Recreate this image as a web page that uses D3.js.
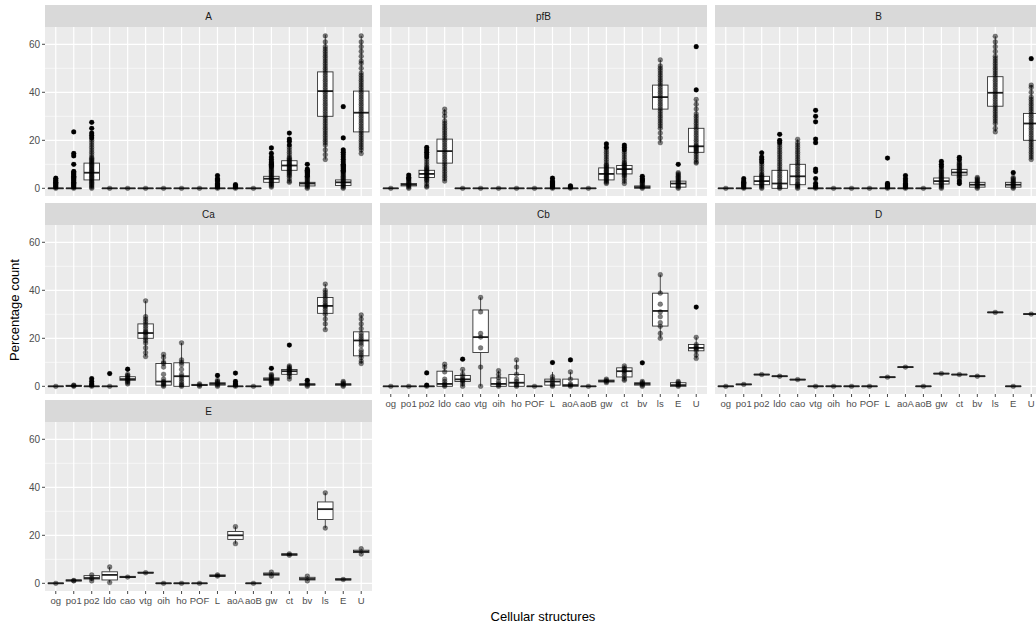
<!DOCTYPE html>
<html><head><meta charset="utf-8">
<script src="https://cdn.jsdelivr.net/npm/d3@7"></script>
<style>body{margin:0;background:#fff}svg{display:block;font-family:"Liberation Sans",Arial,sans-serif}</style>
</head><body><svg id="chart" width="1036" height="626"></svg>
<script>
const categories = ["og","po1","po2","ldo","cao","vtg","oih","ho","POF","L","aoA","aoB","gw","ct","bv","ls","E","U"];
const facets = ["A","pfB","B","Ca","Cb","D","E"];
const yTicks = [0,20,40,60];
const yMinor = [10,30,50];
const yTitle = "Percentage count";
const xTitle = "Cellular structures";

// box stats per category: [lower whisker, q1, median, q3, upper whisker]
const boxA = [[0,0,0,0,0],[0,0,0,0,0],[0,3.5,6.5,10.5,20.5],[0,0,0,0,0],[0,0,0,0,0],[0,0,0,0,0],[0,0,0,0,0],[0,0,0,0,0],[0,0,0,0,0],[0,0,0,0,0],[0,0,0,0,0],[0,0,0,0,0],[0.5,2.5,4,5,8.5],[2.5,7.5,9.5,11.5,17],[0,1,2,2.5,4.5],[12,30,40.5,48.5,64],[0,1.2,2.5,3.5,6.5],[14.5,23.5,31.5,40.5,63.5]];
const ptsA = [
 [0,0.5,1,1.5,2,2.5,3,3.5,4.2],
 [0,0.5,1,1.5,2,2.5,3,3.5,4,4.5,5,5.5,6,6.5,7,10,13.5,14.5,23.5],
 [0,0.5,1,1.5,2,2.5,3,3.5,4,4.5,5,5.5,6,6.5,7,7.5,8,8.5,9,9.5,10,10.5,11,11.5,12,12.5,13,14,15,16,17,18,19,20,21,22,23,25,27.5],
 [0],[0],[0],[0],[0],[0],
 [0,0.5,1,1.5,2,3,3.5,4,5.3],
 [0,0.5,1,1.5],
 [0],
 [0.5,1,1.5,2,2.5,3,3.5,4,4.5,5,5.5,6,6.5,7,7.5,8,8.5,9,9.5,10,10.5,11,12,13,14.5,16.8],
 [2.5,3,4,5,5.5,6,6.5,7,7.5,8,8.5,9,9.5,10,10.5,11,11.5,12,12.5,13,14,15,16,17,18,19.5,20.5,23],
 [0,0.5,1,1.5,2,2.5,3,3.5,4,4.5,5,5.5,6,6.5,7,7.5,8,10],
 [12,14,16,18,19,20,21,22,23,24,25,26,27,28,29,30,31,32,33,34,35,36,37,38,39,40,41,42,43,44,45,46,47,48,49,50,51,52,53,54,55,56,57,58,59,61,63.5],
 [0,0.5,1,1.5,2,2.5,3,3.5,4,4.5,5,5.5,6,6.5,7,7.5,8,8.5,9,9.5,10,11,12,13,14,15,16,21,34],
 [14.5,16,17,18,19,20,21,22,23,24,25,26,27,28,29,30,31,32,33,34,35,36,37,38,39,40,41,42,43,44,45,46,47,48,50,52,53,55,57,59,61,63.5]
];

const boxPfB = [[0,0,0,0,0],[0,1,1.5,2,3.5],[0.5,4.5,6,7.5,12],[3,10.5,15.5,20.5,33],[0,0,0,0,0],[0,0,0,0,0],[0,0,0,0,0],[0,0,0,0,0],[0,0,0,0,0],[0,0,0,0,0],[0,0,0,0,0],[0,0,0,0,0],[2,3.5,6,8.5,16],[2,6,8,9.5,15],[0,0,0.5,1,2.5],[19,33,38,43,53.5],[0,0.5,2,3,6.5],[10.5,15,17.5,25,37]];
const ptsPfB = [
 [0],
 [0,0.5,1,1.5,2,2.5,3,3.5,4,4.5,5.5],
 [0.5,1,2,3,3.5,4,4.5,5,5.5,6,6.5,7,7.5,8,8.5,9,10,11,12,13,14,15,16,17],
 [3,4,5,6,7,8,9,10,11,12,13,14,15,16,17,18,19,20,21,22,23,24,25,26,27,28,30,31.5,33],
 [0],[0],[0],[0],[0],
 [0,0.5,1,1.5,2,2.5,3,4.2],
 [0,0.5,1],
 [0],
 [2,2.5,3,3.5,4,4.5,5,5.5,6,6.5,7,7.5,8,8.5,9,9.5,10,11,12,13,14,15,16,17,18.5],
 [2,3,4,5,5.5,6,6.5,7,7.5,8,8.5,9,9.5,10,10.5,11,12,13,14,15,16,17,18],
 [0,0.5,1,1.5,2,2.5,3,3.5,4,5],
 [19,21,23,25,26,27,28,29,30,31,32,33,34,35,36,37,38,39,40,41,42,43,44,45,46,47,48,49,50,51,53.5],
 [0,0.5,1,1.5,2,2.5,3,3.5,4,4.5,5,5.5,6,6.5,10],
 [10.5,11,12,13,14,15,15.5,16,16.5,17,17.5,18,19,20,21,22,23,24,25,26,27,28,29,30,31,33,35,37,41,59]
];

const boxB = [[0,0,0,0,0],[0,0,0,0,0],[0,1.5,3,5,10],[0,0,2,7.5,18],[0,1.5,5,10,20.4],[0,0,0,0,0],[0,0,0,0,0],[0,0,0,0,0],[0,0,0,0,0],[0,0,0,0,0],[0,0,0,0,0],[0,0,0,0,0],[0,1.8,3,4.3,8],[3.5,5.5,6.6,7.9,11],[0,0.5,1.5,2.5,4.5],[23.5,34.2,39.8,46.5,63.3],[0,0.5,1.5,2.5,5],[12,20,27,31.2,43]];
const ptsB = [
 [0],
 [0,0.5,1,1.5,2,2.5,3,4],
 [0,0.5,1,1.5,2,2.5,3,3.5,4,4.5,5,5.5,6,7,8,9,10,11,12,13,14.8],
 [0,0.5,1,2,3,4,5,6,7,8,9,10,11,12,13,14,15,16,17,18,19,20,22.5],
 [0,0.5,1,1.5,2,3,4,5,6,7,8,9,10,11,12,13,14,15,16,17,18,19,20.4],
 [0,0.5,1,2,4,7,8,19,20.5,27.7,30,32.5],
 [0],[0],[0],
 [0,0.5,1,1.5,2,12.6],
 [0,0.5,1,1.5,2,3,4,5.3],
 [0],
 [0,0.5,1,1.5,2,2.5,3,3.5,4,4.5,5,5.5,6,6.5,7,7.5,8,9,10,11.2],
 [2,3,4,4.5,5,5.5,6,6.5,7,7.5,8,8.5,9,9.5,10,10.5,11,12,12.9],
 [0,0.5,1,1.5,2,2.5,3,3.5,4,4.5],
 [23.5,25,27,28,29,30,31,32,33,34,35,36,37,38,39,40,41,42,43,44,45,46,47,48,49,50,51,52,53,54,55,57,59,61,63.3],
 [0,0.5,1,1.5,2,2.5,3,3.5,4,4.5,6.5],
 [12,13,14,15,16,17,18,19,20,21,22,23,24,25,26,27,28,29,30,31,32,33,34,35,36,37,38,40,42,43,54]
];

const boxCa = [[0,0,0,0,0],[0,0,0.2,0.4,0.5],[0,0,0,0,0],[0,0,0,0,0],[1,2.5,3,4,5.5],[12.4,20,22.2,26,35.6],[0,0.5,2,9.5,13.3],[0,0,4.2,9.8,18.1],[0,0.3,0.5,0.8,1],[0,0.5,1,1.5,3],[0,0,0,0,0],[0,0,0,0,0],[1,2.5,3,3.5,5],[3,5,6.3,7,9],[0,0.5,0.8,1,2],[23.6,30.4,33.5,37,42.6],[0,0.5,0.8,1,2],[9.5,12.7,19.1,22.7,29.7]];
const ptsCa = [
 [0],[0,0.3,0.5],[0,0.5,1,2,3.2],[0,5.3],[1,1.5,2,2.5,3,3.5,4,4.5,5,7.1],
 [12.4,14,16,18,19,20,21,22,22.5,23,24,25,26,27,28,29,35.6],
 [0,0.5,1,1.5,2,3,5,8,9.5,10,12,13.3],
 [0,0.5,1,2,3,4,5,7,9,10,11,18.1],
 [0,0.5,1],[0,0.5,1,1.5,2,2.5,4.5],[0,0.5,1,2,5.5],[0],
 [1,1.5,2,2.5,3,3.5,4,4.5,5,7.5],
 [3,4,5,5.5,6,6.5,7,7.5,8,8.5,17.2],
 [0,0.5,1,1.5,2.5],
 [23.6,26,28,30,31,32,33,33.5,34,35,36,37,38,39,40,42.6],
 [0,0.5,1,1.5,2],
 [9.5,10.5,12,13,14,15,17,18,19,20,21,22,24,26,28,29.7]
];

const boxCb = [[0,0,0,0,0],[0,0,0,0,0],[0,0,0,0,0],[0,0,1,6.3,9.2],[0,2,2.9,4.5,7],[0,14.1,20.5,31.8,37],[0,0,1,3.5,6.5],[0,0,1.5,4.9,11],[0,0,0,0,0],[0,0.5,2,3,6],[0,0,0.5,3,6],[0,0,0,0,0],[1.5,1.8,2.2,2.6,3],[2.5,3.9,6.3,7.7,8.5],[0,0.5,1,1.5,2.5],[20,25.1,31.4,38.8,46.5],[0,0,0.5,1.5,2],[11.6,14.8,16,17.4,20.4]];
const ptsCb = [
 [0],[0],[0,0.5,5.6],[0,0.5,1,2,3,6,8,9.2],[0,1,2,2.5,3,4,5,7,11.3],
 [0,8,16,20.5,22,31,37],
 [0,0.5,1,2,3.5,5,6.5],
 [0,0.5,1,2,3,5,8,11],
 [0],[0,0.5,1,2,3,4,9.9],[0,0.5,1,3,6,11],[0],
 [1.5,2,2.5,3],
 [2.5,3,4,5,6,6.5,7,7.7,8.5],
 [0,0.5,1,1.5,2,9.8],
 [20,22,25,26.5,29,31,34.2,38.8,46.5],
 [0,0.5,1,1.5,2],
 [11.6,13,14.8,15.5,16,16.5,17.4,20.4,33]
];

const boxD = [[-0.2,-0.1,0,0.1,0.2],[0.6,0.7,0.8,0.9,1],[4.7,4.8,4.9,5,5.1],[4,4.1,4.2,4.3,4.4],[2.6,2.7,2.8,2.9,3],[-0.2,-0.1,0,0.1,0.2],[-0.2,-0.1,0,0.1,0.2],[-0.2,-0.1,0,0.1,0.2],[-0.2,-0.1,0,0.1,0.2],[3.6,3.7,3.8,3.9,4],[7.8,7.9,8,8.1,8.2],[-0.2,-0.1,0,0.1,0.2],[5.1,5.2,5.3,5.4,5.5],[4.7,4.8,4.9,5,5.1],[4,4.1,4.2,4.3,4.4],[30.6,30.7,30.8,30.9,31],[-0.2,-0.1,0,0.1,0.2],[29.9,30,30.1,30.2,30.3]];
const ptsD = [[0],[0.8],[4.9],[4.2],[2.8],[0],[0],[0],[0],[3.8],[8],[0],[5.3],[4.9],[4.2],[30.8],[0],[30.1]];

const boxE = [[-0.2,-0.1,0,0.1,0.2],[0.8,1,1.2,1.4,1.6],[1,1.8,2.2,3.2,3.5],[0.3,1.4,3.5,4.8,6.8],[2.2,2.4,2.6,2.9,3.1],[4.1,4.3,4.4,4.6,4.8],[-0.2,-0.1,0,0.1,0.2],[-0.2,-0.1,0,0.1,0.2],[-0.2,-0.1,0,0.1,0.2],[2.6,2.9,3.1,3.5,3.8],[16.5,18.3,20,21.6,23.6],[-0.2,-0.1,0,0.1,0.2],[3,3.4,3.8,4.3,4.7],[11.4,11.7,12,12.3,12.6],[1,1.4,1.8,2.5,3],[23,26.6,30.9,33.9,37.7],[1.2,1.4,1.6,1.9,2.1],[12.2,12.8,13.2,13.8,14.4]];
const ptsE = [[0],[1,1.2],[1,2,3.5],[0.3,6.8],[2.6],[4.4],[0],[0],[0],[3,3.5],[16.5,23.6],[0],[3,4.7],[11.7,12.3],[1,3],[23,37.7],[1.6],[12.2,14.4]];

const boxData = {A:boxA, pfB:boxPfB, B:boxB, Ca:boxCa, Cb:boxCb, D:boxD, E:boxE};
const pointData = {A:ptsA, pfB:ptsPfB, B:ptsB, Ca:ptsCa, Cb:ptsCb, D:ptsD, E:ptsE};

// ---------- layout ----------
const colX = [45, 380, 715], colW = 327;
const rowTop = [27, 225, 422], rowBot = [196, 394, 591], stripH = 22;
const grid = {A:[0,0], pfB:[0,1], B:[0,2], Ca:[1,0], Cb:[1,1], D:[1,2], E:[2,0]};
const showX = {Cb:true, D:true, E:true};
const showY = {A:true, Ca:true, E:true};

const svg = d3.select("#chart");
svg.append("rect").attr("width",1036).attr("height",626).attr("fill","#fff");

facets.forEach(f => {
  const [r, c] = grid[f];
  const x0 = colX[c], x1 = x0 + colW, top = rowTop[r], bot = rowBot[r];
  const x = d3.scalePoint().domain(categories).range([x0, x1]).padding(0.6);
  const y = d3.scaleLinear().domain([-3.2, 67.2]).range([bot, top]);
  const bw = x.step() * 0.86;
  const g = svg.append("g");

  // strip
  g.append("rect").attr("x", x0).attr("y", top - stripH).attr("width", colW).attr("height", stripH).attr("fill", "#D9D9D9");
  g.append("text").attr("x", (x0 + x1) / 2).attr("y", top - stripH / 2 + 3.5).attr("text-anchor", "middle")
    .attr("font-size", 10).attr("fill", "#1A1A1A").text(f);

  // panel
  g.append("rect").attr("x", x0).attr("y", top).attr("width", colW).attr("height", bot - top).attr("fill", "#EBEBEB");
  g.selectAll(".mn").data(yMinor).join("line").attr("x1", x0).attr("x2", x1)
    .attr("y1", d => y(d)).attr("y2", d => y(d)).attr("stroke", "#fff").attr("stroke-width", 0.6);
  g.selectAll(".mj").data(yTicks).join("line").attr("x1", x0).attr("x2", x1)
    .attr("y1", d => y(d)).attr("y2", d => y(d)).attr("stroke", "#fff").attr("stroke-width", 1.2);
  g.selectAll(".vx").data(categories).join("line").attr("y1", top).attr("y2", bot)
    .attr("x1", d => x(d)).attr("x2", d => x(d)).attr("stroke", "#fff").attr("stroke-width", 1.2);

  const boxes = boxData[f], pts = pointData[f];
  const bx = g.selectAll(".bx").data(categories).join("g");
  // whiskers
  bx.append("line").attr("x1", d => x(d)).attr("x2", d => x(d))
    .attr("y1", (d, i) => y(boxes[i][0])).attr("y2", (d, i) => y(boxes[i][1]))
    .attr("stroke", "#333").attr("stroke-width", 0.9);
  bx.append("line").attr("x1", d => x(d)).attr("x2", d => x(d))
    .attr("y1", (d, i) => y(boxes[i][3])).attr("y2", (d, i) => y(boxes[i][4]))
    .attr("stroke", "#333").attr("stroke-width", 0.9);
  bx.append("rect").attr("x", d => x(d) - bw / 2).attr("width", bw)
    .attr("y", (d, i) => y(boxes[i][3])).attr("height", (d, i) => Math.max(0.01, y(boxes[i][1]) - y(boxes[i][3])))
    .attr("fill", "#fff").attr("stroke", "#333").attr("stroke-width", 0.9);
  bx.append("line").attr("x1", d => x(d) - bw / 2).attr("x2", d => x(d) + bw / 2)
    .attr("y1", (d, i) => y(boxes[i][2])).attr("y2", (d, i) => y(boxes[i][2]))
    .attr("stroke", "#222").attr("stroke-width", 1.8);

  // outliers (boxplot) and points
  const flat = [];
  categories.forEach((cat, i) => pts[i].forEach(v => flat.push({cat, v, out: v < boxes[i][0] - 1e-9 || v > boxes[i][4] + 1e-9})));
  g.selectAll(".out").data(flat.filter(d => d.out)).join("circle")
    .attr("cx", d => x(d.cat)).attr("cy", d => y(d.v)).attr("r", 2.4).attr("fill", "#000");
  g.selectAll(".pt").data(flat).join("circle")
    .attr("cx", d => x(d.cat)).attr("cy", d => y(d.v)).attr("r", 2.4)
    .attr("fill", "#000").attr("fill-opacity", 0.5).attr("stroke", "#000").attr("stroke-opacity", 0.45).attr("stroke-width", 0.5);

  // y axis
  if (showY[f]) {
    g.selectAll(".yt").data(yTicks).join("line").attr("x1", x0 - 3).attr("x2", x0)
      .attr("y1", d => y(d)).attr("y2", d => y(d)).attr("stroke", "#333").attr("stroke-width", 0.9);
    g.selectAll(".yl").data(yTicks).join("text").attr("x", x0 - 5).attr("y", d => y(d) + 3.5)
      .attr("text-anchor", "end").attr("font-size", 10).attr("fill", "#4D4D4D").text(d => d);
  }
  // x axis
  if (showX[f]) {
    g.selectAll(".xt").data(categories).join("line").attr("x1", d => x(d)).attr("x2", d => x(d))
      .attr("y1", bot).attr("y2", bot + 3).attr("stroke", "#333").attr("stroke-width", 0.9);
    g.selectAll(".xl").data(categories).join("text").attr("x", d => x(d)).attr("y", bot + 13)
      .attr("text-anchor", "middle").attr("font-size", 9.5).attr("fill", "#4D4D4D").text(d => d);
  }
});

svg.append("text").attr("transform", "translate(19,310) rotate(-90)").attr("text-anchor", "middle")
  .attr("font-size", 13).attr("fill", "#000").text(yTitle);
svg.append("text").attr("x", 543).attr("y", 621).attr("text-anchor", "middle")
  .attr("font-size", 13).attr("fill", "#000").text(xTitle);
</script></body></html>
